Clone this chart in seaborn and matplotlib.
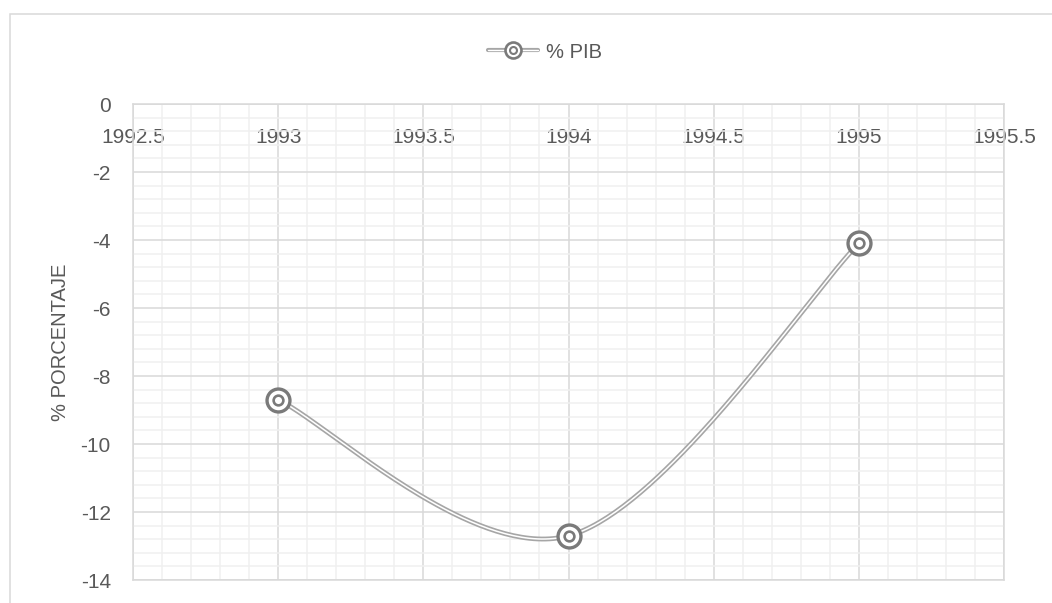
import numpy as np
import pandas as pd
import matplotlib
matplotlib.use("Agg")
import matplotlib.pyplot as plt
import seaborn as sns
from matplotlib.lines import Line2D
from matplotlib.legend_handler import HandlerTuple
from matplotlib.ticker import MultipleLocator, FuncFormatter
from matplotlib.patches import Rectangle

# ---- data ----
years = [1993, 1994, 1995]
pib = [-8.7, -12.7, -4.1]
series_name = "% PIB"
y_label = "% PORCENTAJE"

sns.set_theme(style="white")
plt.rcParams["font.family"] = ["Liberation Sans", "DejaVu Sans"]
plt.rcParams["axes.unicode_minus"] = False

TXT = "#595959"
LINE = "#a6a6a6"
MARK = "#7a7a7a"
MAJ = "#d9d9d9"
MIN = "#f0f0f0"


def excel_smooth(xs, ys, n=80):
    """Bezier smoothing like Excel's 'smoothed line' (Catmull-Rom, 1/6)."""
    pts = np.column_stack([xs, ys]).astype(float)
    out = []
    for i in range(len(pts) - 1):
        p0 = pts[max(i - 1, 0)]
        p1 = pts[i]
        p2 = pts[i + 1]
        p3 = pts[min(i + 2, len(pts) - 1)]
        c1 = p1 + (p2 - p0) / 6.0
        c2 = p2 - (p3 - p1) / 6.0
        t = np.linspace(0, 1, n)[:, None]
        seg = (1 - t) ** 3 * p1 + 3 * (1 - t) ** 2 * t * c1 + 3 * (1 - t) * t ** 2 * c2 + t ** 3 * p2
        out.append(seg if i == 0 else seg[1:])
    return np.vstack(out)


df = pd.DataFrame({"year": years, "pib": pib})
curve = excel_smooth(df["year"], df["pib"])
cdf = pd.DataFrame({"year": curve[:, 0], "pib": curve[:, 1]})

fig = plt.figure(figsize=(10.52, 6.03), dpi=100)
ax = fig.add_axes([133 / 1052, 1 - 580 / 603, (1004 - 133) / 1052, (580 - 104) / 603])

# outer chart border
fig.patches.append(Rectangle((10 / 1052, -0.05), 1.2, 1 - 14 / 603 + 0.05,
                             transform=fig.transFigure, fill=False,
                             edgecolor=MAJ, linewidth=1.1, zorder=0))

# double (compound) line
sns.lineplot(data=cdf, x="year", y="pib", sort=False, estimator=None, ax=ax,
             color=LINE, linewidth=3.5, zorder=3, legend=False)
sns.lineplot(data=cdf, x="year", y="pib", sort=False, estimator=None, ax=ax,
             color="white", linewidth=1.1, zorder=4, legend=False)
# double-circle markers
sns.scatterplot(data=df, x="year", y="pib", ax=ax, s=16.5 ** 2, marker="o",
                facecolor="white", edgecolor=MARK, linewidth=2.4, zorder=5, legend=False)
sns.scatterplot(data=df, x="year", y="pib", ax=ax, s=7 ** 2, marker="o",
                facecolor="white", edgecolor=MARK, linewidth=1.9, zorder=6, legend=False)

ax.set_xlim(1992.5, 1995.5)
ax.set_ylim(-14, 0)
ax.xaxis.set_major_locator(MultipleLocator(0.5))
ax.xaxis.set_minor_locator(MultipleLocator(0.1))
ax.yaxis.set_major_locator(MultipleLocator(2))
ax.yaxis.set_minor_locator(MultipleLocator(0.4))
ax.xaxis.set_major_formatter(FuncFormatter(lambda v, p: f"{v:g}"))
ax.yaxis.set_major_formatter(FuncFormatter(lambda v, p: f"{v:g}"))

ax.grid(which="major", color=MAJ, linewidth=1.1, zorder=1)
ax.grid(which="minor", color=MIN, linewidth=1.1, zorder=0.5)
ax.set_axisbelow(True)
for s in ax.spines.values():
    s.set_color(MAJ)
    s.set_linewidth(1.1)

ax.xaxis.tick_top()
ax.tick_params(axis="x", which="both", length=0, pad=-31, labelsize=15, colors=TXT,
               labeltop=True, labelbottom=False)
ax.tick_params(axis="y", which="both", length=0, pad=16, labelsize=15, colors=TXT)
ax.set_xlabel("")
ax.set_ylabel(y_label, fontsize=14.5, color=TXT)
ax.yaxis.set_label_coords(-0.072, 0.5)

# legend
h_gray = Line2D([], [], color=LINE, linewidth=3.0)
h_white = Line2D([], [], color="white", linewidth=1.0)
h_out = Line2D([], [], linestyle="none", marker="o", markersize=11.5,
               markerfacecolor="white", markeredgecolor=MARK, markeredgewidth=1.9)
h_in = Line2D([], [], linestyle="none", marker="o", markersize=5,
              markerfacecolor="white", markeredgecolor=MARK, markeredgewidth=1.5)
fig.legend([(h_gray, h_white, h_out, h_in)], [series_name],
           handler_map={tuple: HandlerTuple(ndivide=1)},
           loc="center", bbox_to_anchor=(545 / 1052, 1 - 52 / 603),
           frameon=False, fontsize=14.5, labelcolor=TXT,
           handlelength=2.5, handletextpad=0.4)

fig.savefig("out.png", dpi=100)
